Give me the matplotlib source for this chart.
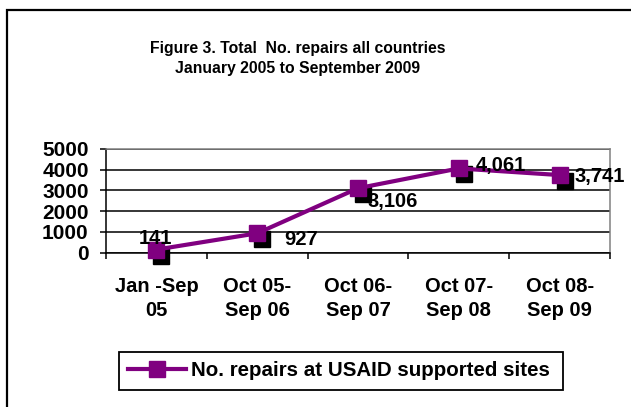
import matplotlib
matplotlib.use("Agg")
import matplotlib.pyplot as plt
import matplotlib.transforms as mtransforms
from matplotlib.patches import Rectangle

categories = ["Jan -Sep\n05", "Oct 05-\nSep 06", "Oct 06-\nSep 07", "Oct 07-\nSep 08", "Oct 08-\nSep 09"]
repairs = [141, 927, 3106, 4061, 3741]
value_labels = ["141", "927", "3,106", "4,061", "3,741"]
y_ticks = [0, 1000, 2000, 3000, 4000, 5000]
series_name = "No. repairs at USAID supported sites"
title = "Figure 3. Total  No. repairs all countries\nJanuary 2005 to September 2009"

plt.rcParams["font.family"] = ["Liberation Sans", "DejaVu Sans"]
plt.rcParams["font.weight"] = "bold"

purple = "#800080"
fig = plt.figure(figsize=(6.31, 4.07), dpi=100)
fig.patch.set_facecolor("white")

# outer chart border (runs off the right/bottom edge like the original)
fig.patches.append(Rectangle((7 / 631, -0.05), 1.2, 1 - 10 / 407 + 0.05, transform=fig.transFigure,
                             fill=False, edgecolor="black", linewidth=1.6, clip_on=False))

fig.text(298 / 631, 1 - 58.5 / 407, title, ha="center", va="center", fontsize=11.3,
         fontweight="bold", linespacing=1.45)

ax = fig.add_axes([106 / 631, 1 - 252.5 / 407, 504 / 631, 103.5 / 407])
x = list(range(len(repairs)))

# marker shadows, offset a few pixels down-right
shadow = mtransforms.offset_copy(ax.transData, fig=fig, x=5, y=-6, units="dots")
ax.plot(x, repairs, linestyle="none", marker="s", markersize=11, color="black",
        transform=shadow, zorder=3, clip_on=False)
ax.plot(x, repairs, color=purple, linewidth=3, marker="s", markersize=11,
        markeredgecolor=purple, zorder=4, clip_on=False, label=series_name)

offsets = [(-1, 13, "center"), (27, -4, "left"), (9, -11, "left"), (17, 5, "left"), (15, 1, "left")]
for xi, v, lab, (dx, dy, ha) in zip(x, repairs, value_labels, offsets):
    ax.annotate(lab, (xi, v), xytext=(dx, dy), textcoords="offset pixels", ha=ha,
                va="center_baseline", fontsize=14.5, fontweight="bold", zorder=5)

ax.set_xlim(-0.5, len(repairs) - 0.5)
ax.set_ylim(0, 5000)
ax.set_yticks(y_ticks)
ax.set_yticklabels([str(t) for t in y_ticks], fontsize=15, fontweight="bold")
ax.set_xticks([i - 0.5 for i in range(len(repairs) + 1)])
ax.set_xticklabels([])
ax.set_xticks(x, minor=True)
ax.set_xticklabels(categories, minor=True, fontsize=14.5, fontweight="bold", linespacing=1.3)
ax.tick_params(axis="x", which="major", length=4.5, width=1.1, direction="out")
ax.tick_params(axis="x", which="minor", length=0, pad=18)
ax.tick_params(axis="y", length=4.5, width=1.1, direction="out", pad=8)

ax.set_axisbelow(True)
ax.yaxis.grid(True, color="black", linewidth=1.1)
for side in ["left", "bottom"]:
    ax.spines[side].set_color("black")
    ax.spines[side].set_linewidth(1.1)
for side in ["top", "right"]:
    ax.spines[side].set_color("#808080")
    ax.spines[side].set_linewidth(1.1)

leg = fig.legend(loc="center", bbox_to_anchor=(119 / 631, 1 - 371 / 407, 444 / 631, 0), mode="expand",
                 fontsize=14.8, frameon=True, fancybox=False, edgecolor="black", handlelength=2.8,
                 handletextpad=0.25, borderpad=0.45, borderaxespad=0)
leg.get_frame().set_linewidth(1.3)
leg.get_frame().set_alpha(None)

fig.savefig("out.png", dpi=100, facecolor="white")
